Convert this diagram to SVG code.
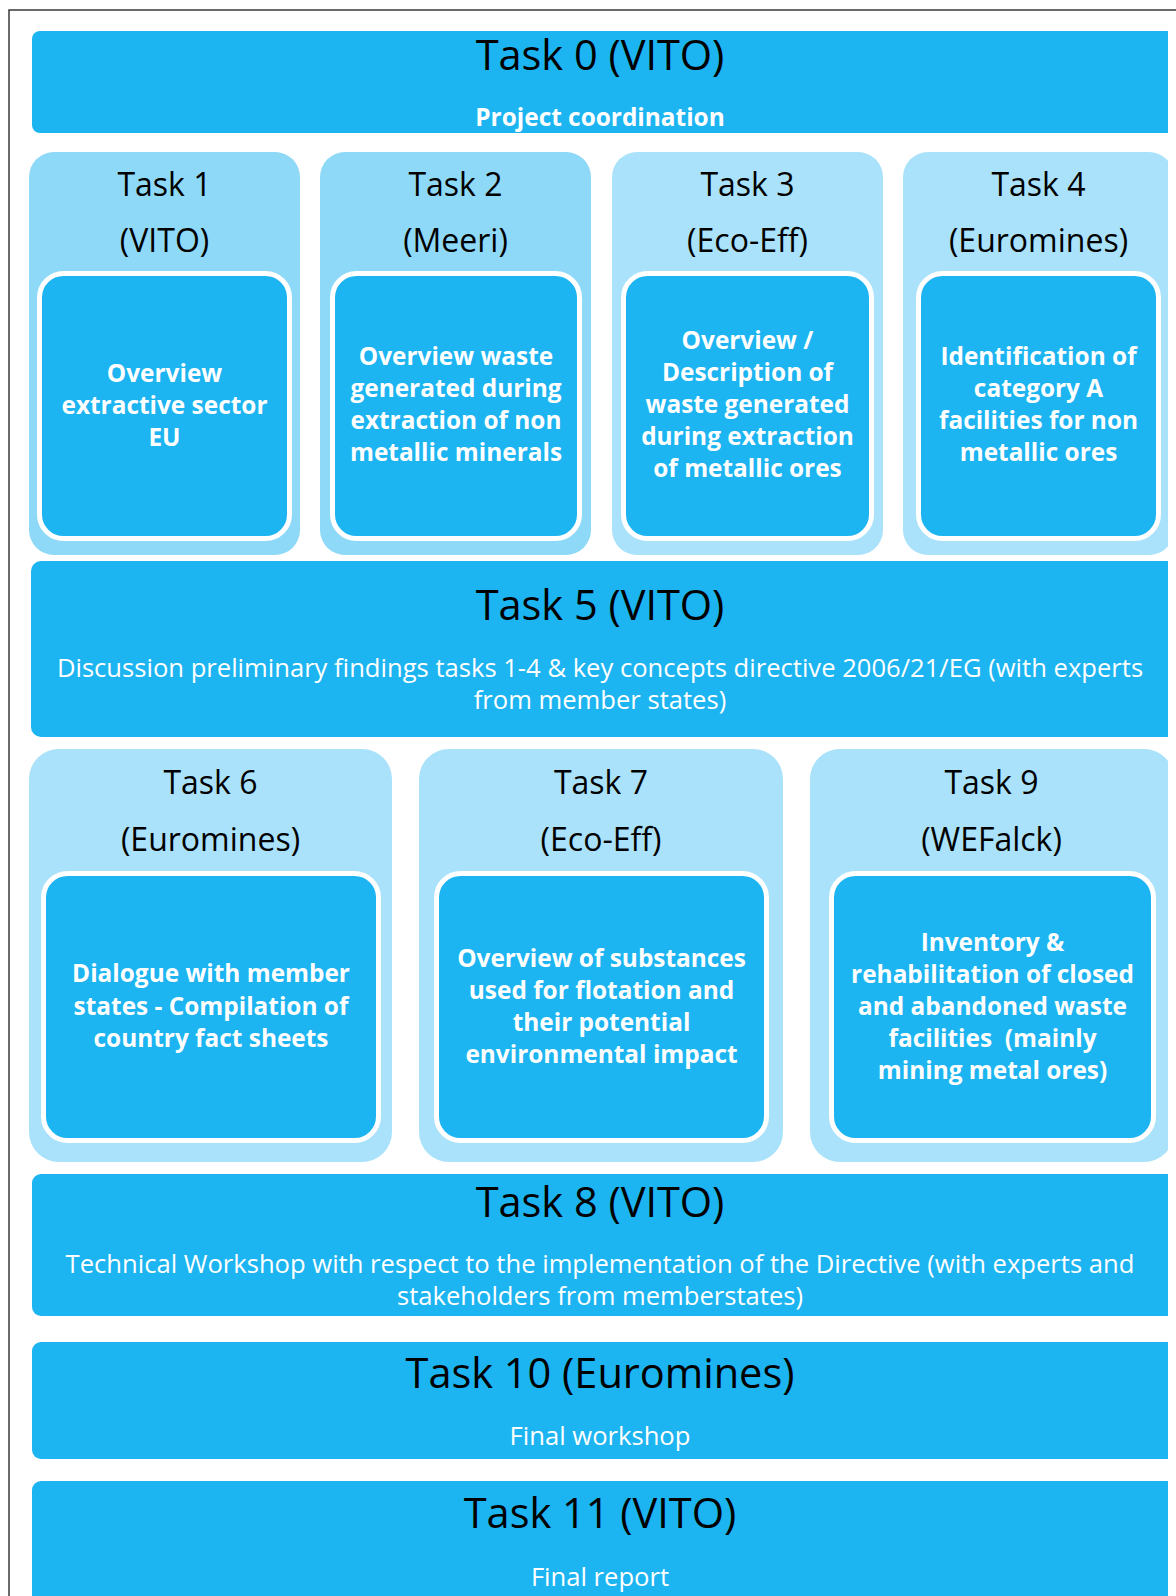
<svg xmlns="http://www.w3.org/2000/svg" width="1176" height="1596" viewBox="0 0 1176 1596">
  <defs>
    <clipPath id="pageclip"><rect x="0" y="0" width="1168" height="1596"/></clipPath>
    <style>
      .band { fill: #1CB4F1; }
      .outerA { fill: #8ED9F7; }
      .outerB { fill: #A9E2FA; }
      .inner { fill: #1CB4F1; stroke: #FFFFFF; stroke-width: 5; }
      .title { font-family: "Open Sans", "Liberation Sans", sans-serif; fill: #000000; text-anchor: middle; }
      .big { font-size: 41.5px; }
      .mid { font-size: 32px; }
      .body { font-family: "Open Sans", "Liberation Sans", sans-serif; font-size: 25.6px; fill: #FFFFFF; text-anchor: middle; }
      .bold { font-family: "Open Sans", "Liberation Sans", sans-serif; font-size: 24.4px; font-weight: bold; fill: #FFFFFF; text-anchor: middle; }
    </style>
  </defs>
  <rect x="0" y="0" width="1176" height="1596" fill="#FFFFFF"/>
  <path d="M9 1596 V10 H1176" fill="none" stroke="#3a3a3a" stroke-width="1.5"/>
  <g clip-path="url(#pageclip)">
    <g id="task0">
      <rect class="band" x="32" y="31" width="1146" height="102" rx="8"/>
      <text class="title big" x="600" y="70">Task 0 (VITO)</text>
      <text class="bold" x="600" y="126">Project coordination</text>
    </g>
    <g id="task1">
      <rect class="outerA" x="29" y="152" width="271" height="403" rx="25"/>
      <text class="title mid" x="164.5" y="196">Task 1</text>
      <text class="title mid" x="164.5" y="252">(VITO)</text>
      <rect class="inner" x="39.5" y="273.5" width="250" height="265" rx="24"/>
      <text class="bold" x="164.5" y="382">Overview</text>
      <text class="bold" x="164.5" y="414">extractive sector</text>
      <text class="bold" x="164.5" y="446">EU</text>
    </g>
    <g id="task2">
      <rect class="outerA" x="320" y="152" width="271" height="403" rx="25"/>
      <text class="title mid" x="455.5" y="196">Task 2</text>
      <text class="title mid" x="455.5" y="252">(Meeri)</text>
      <rect class="inner" x="332.5" y="273.5" width="247" height="265" rx="24"/>
      <text class="bold" x="456" y="365">Overview waste</text>
      <text class="bold" x="456" y="397">generated during</text>
      <text class="bold" x="456" y="429">extraction of non</text>
      <text class="bold" x="456" y="461">metallic minerals</text>
    </g>
    <g id="task3">
      <rect class="outerB" x="612" y="152" width="271" height="403" rx="25"/>
      <text class="title mid" x="747.5" y="196">Task 3</text>
      <text class="title mid" x="747.5" y="252">(Eco-Eff)</text>
      <rect class="inner" x="623.5" y="273.5" width="248" height="265" rx="24"/>
      <text class="bold" x="747.5" y="349">Overview /</text>
      <text class="bold" x="747.5" y="381">Description of</text>
      <text class="bold" x="747.5" y="413">waste generated</text>
      <text class="bold" x="747.5" y="445">during extraction</text>
      <text class="bold" x="747.5" y="477">of metallic ores</text>
    </g>
    <g id="task4">
      <rect class="outerB" x="903" y="152" width="271" height="403" rx="25"/>
      <text class="title mid" x="1038.5" y="196">Task 4</text>
      <text class="title mid" x="1038.5" y="252">(Euromines)</text>
      <rect class="inner" x="918.5" y="273.5" width="240" height="265" rx="24"/>
      <text class="bold" x="1038.5" y="365">Identification of</text>
      <text class="bold" x="1038.5" y="397">category A</text>
      <text class="bold" x="1038.5" y="429">facilities for non</text>
      <text class="bold" x="1038.5" y="461">metallic ores</text>
    </g>
    <g id="task5">
      <rect class="band" x="31" y="561" width="1147" height="176" rx="10"/>
      <text class="title big" x="600" y="620">Task 5 (VITO)</text>
      <text class="body" x="600" y="677">Discussion preliminary findings tasks 1-4 &amp; key concepts directive 2006/21/EG (with experts</text>
      <text class="body" x="600" y="709">from member states)</text>
    </g>
    <g id="task6">
      <rect class="outerB" x="29" y="749" width="363" height="413" rx="30"/>
      <text class="title mid" x="210.5" y="794">Task 6</text>
      <text class="title mid" x="210.5" y="851">(Euromines)</text>
      <rect class="inner" x="43.5" y="873.5" width="335" height="267" rx="24"/>
      <text class="bold" x="211" y="982">Dialogue with member</text>
      <text class="bold" x="211" y="1015">states - Compilation of</text>
      <text class="bold" x="211" y="1047">country fact sheets</text>
    </g>
    <g id="task7">
      <rect class="outerB" x="419" y="749" width="364" height="413" rx="30"/>
      <text class="title mid" x="601" y="794">Task 7</text>
      <text class="title mid" x="601" y="851">(Eco-Eff)</text>
      <rect class="inner" x="436.5" y="873.5" width="330" height="267" rx="24"/>
      <text class="bold" x="601.5" y="967">Overview of substances</text>
      <text class="bold" x="601.5" y="999">used for flotation and</text>
      <text class="bold" x="601.5" y="1031">their potential</text>
      <text class="bold" x="601.5" y="1063">environmental impact</text>
    </g>
    <g id="task9">
      <rect class="outerB" x="810" y="749" width="364" height="413" rx="30"/>
      <text class="title mid" x="991.5" y="794">Task 9</text>
      <text class="title mid" x="991.5" y="851">(WEFalck)</text>
      <rect class="inner" x="831.5" y="873.5" width="322" height="267" rx="24"/>
      <text class="bold" x="992.5" y="951">Inventory &amp;</text>
      <text class="bold" x="992.5" y="983">rehabilitation of closed</text>
      <text class="bold" x="992.5" y="1015">and abandoned waste</text>
      <text class="bold" x="992.5" y="1047" xml:space="preserve">facilities  (mainly</text>
      <text class="bold" x="992.5" y="1079">mining metal ores)</text>
    </g>
    <g id="task8">
      <rect class="band" x="32" y="1174" width="1146" height="142" rx="9"/>
      <text class="title big" x="600" y="1217">Task 8 (VITO)</text>
      <text class="body" x="600" y="1273">Technical Workshop with respect to the implementation of the Directive (with experts and</text>
      <text class="body" x="600" y="1305">stakeholders from memberstates)</text>
    </g>
    <g id="task10">
      <rect class="band" x="32" y="1342" width="1146" height="117" rx="9"/>
      <text class="title big" x="600" y="1388">Task 10 (Euromines)</text>
      <text class="body" x="600" y="1445">Final workshop</text>
    </g>
    <g id="task11">
      <rect class="band" x="32" y="1481" width="1146" height="140" rx="9"/>
      <text class="title big" x="600" y="1528">Task 11 (VITO)</text>
      <text class="body" x="600" y="1586">Final report</text>
    </g>
  </g>
  <g id="connectors"/>
</svg>
